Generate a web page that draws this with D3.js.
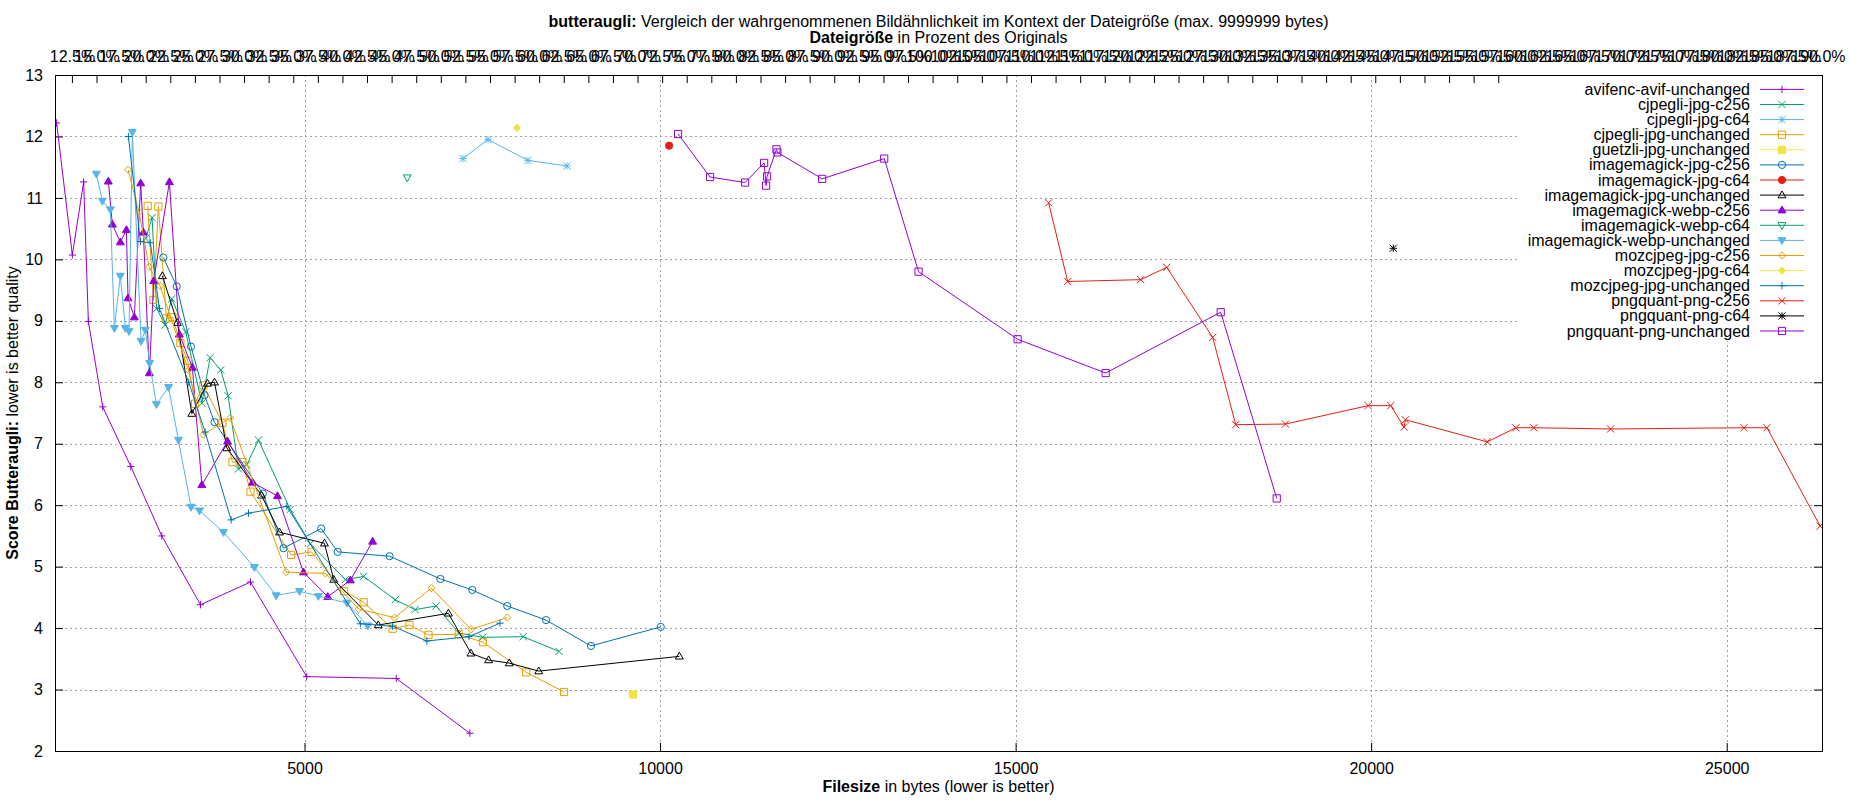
<!DOCTYPE html>
<html>
<head>
<meta charset="utf-8">
<script src="https://cdn.jsdelivr.net/npm/d3@7"></script>
<style>
  body { margin:0; background:#fff; }
  svg { font-family: "Liberation Sans", Arial, sans-serif; }
</style>
</head>
<body>
<svg></svg>
<script>
// series names (legend order = drawing order)
var seriesNames = [
  "avifenc-avif-unchanged", "cjpegli-jpg-c256", "cjpegli-jpg-c64", "cjpegli-jpg-unchanged",
  "guetzli-jpg-unchanged", "imagemagick-jpg-c256", "imagemagick-jpg-c64", "imagemagick-jpg-unchanged",
  "imagemagick-webp-c256", "imagemagick-webp-c64", "imagemagick-webp-unchanged", "mozcjpeg-jpg-c256",
  "mozcjpeg-jpg-c64", "mozcjpeg-jpg-unchanged", "pngquant-png-c256", "pngquant-png-c64",
  "pngquant-png-unchanged"
];

// [filesize in bytes, butteraugli score]
var avifencAvifUnchanged = [[1514,12.22],[1735,10.07],[1894,11.26],[1960,8.99],[2162,7.60],[2557,6.63],[2993,5.50],[3537,4.38],[4240,4.75],[5030,3.21],[6290,3.18],[7325,2.29]];
var cjpegliJpgC256 = [[2767,10.34],[2856,10.68],[2921,9.20],[3039,8.93],[3133,9.36],[3329,8.82],[3556,7.66],[3672,8.40],[3822,8.20],[3926,7.78],[4071,6.59],[4189,6.66],[4353,7.06],[4798,5.93],[5082,5.37],[5575,4.79],[5832,4.84],[6276,4.46],[6556,4.30],[6851,4.36],[7168,3.92],[7505,3.85],[8075,3.86],[8580,3.62]];
var cjpegliJpgC64 = [[7228,11.64],[7580,11.95],[8143,11.61],[8691,11.52]];
var cjpegliJpgUnchanged = [[2795,10.87],[2875,9.34],[2945,10.86],[3058,9.04],[3142,9.06],[3254,8.64],[3358,8.35],[3461,7.65],[3578,7.95],[3846,7.34],[3987,6.70],[4128,6.70],[4240,6.22],[4812,5.19],[5098,5.24],[5556,4.60],[5832,4.42],[6238,3.99],[6477,4.05],[6743,3.89],[7168,3.90],[7509,3.77],[8117,3.28],[8650,2.96]];
var guetzliJpgUnchanged = [[9618,2.92]];
var imagemagickJpgC256 = [[3015,10.03],[3203,9.56],[3404,8.58],[3593,7.79],[3734,7.35],[4414,6.19],[4705,5.30],[5234,5.62],[5467,5.24],[6196,5.17],[6911,4.80],[7360,4.62],[7851,4.36],[8397,4.13],[9028,3.71],[10010,4.02]];
var imagemagickJpgC64 = [[10127,11.85]];
var imagemagickJpgUnchanged = [[3001,9.73],[3212,8.97],[3415,7.49],[3635,7.98],[3734,8.00],[3907,6.93],[4395,6.16],[4648,5.56],[5280,5.38],[5411,4.79],[6037,4.05],[7023,4.24],[7341,3.59],[7589,3.48],[7879,3.43],[8294,3.30],[10271,3.54]];
var imagemagickWebpC256 = [[2241,11.27],[2298,10.57],[2410,10.28],[2495,10.48],[2518,9.37],[2607,9.06],[2696,11.24],[2734,10.44],[2818,8.15],[2879,9.65],[3100,11.26],[3240,8.78],[3423,8.24],[3556,6.33],[3917,7.04],[4268,6.37],[4620,6.15],[4985,4.91],[5327,4.51],[5645,4.78],[5958,5.41]];
var imagemagickWebpC64 = [[6445,11.33]];
var imagemagickWebpUnchanged = [[2073,11.39],[2157,10.95],[2270,10.81],[2326,8.88],[2410,9.73],[2481,8.88],[2532,8.83],[2579,12.07],[2701,8.67],[2762,8.85],[2823,8.31],[2917,7.64],[3088,7.92],[3227,7.06],[3405,5.97],[3523,5.91],[3860,5.56],[4296,4.99],[4601,4.53],[4930,4.60],[5195,4.52],[5598,4.41],[5888,4.04]];
var mozcjpegJpgC256 = [[2518,11.46],[2673,10.77],[2813,9.88],[2968,9.57],[3367,8.20],[3579,7.15],[3954,7.42],[4742,4.91],[5294,4.89],[5762,4.31],[6266,4.17],[6785,4.65],[7341,3.98],[7851,4.17]];
var mozcjpegJpgC64 = [[7988,12.14]];
var mozcjpegJpgUnchanged = [[2523,12.00],[2692,10.29],[2832,10.27],[2959,9.20],[3372,8.00],[3602,7.19],[3968,5.76],[4212,5.87],[4751,5.98],[5785,4.07],[6238,4.03],[6720,3.79],[7313,3.86],[7748,4.08]];
var pngquantPngC256 = [[15464,10.92],[15732,9.64],[16759,9.67],[17125,9.87],[17772,8.73],[18095,7.31],[18794,7.32],[19958,7.62],[20276,7.62],[20463,7.27],[20482,7.39],[21632,7.03],[22035,7.26],[22287,7.26],[23367,7.24],[25243,7.26],[25566,7.26],[26314,5.66]];
var pngquantPngC64 = [[20311,10.18]];
var pngquantPngUnchanged = [[10253,12.04],[10703,11.34],[11196,11.25],[11463,11.57],[11491,11.20],[11505,11.35],[11637,11.79],[11651,11.74],[12279,11.31],[13152,11.64],[13635,9.80],[15028,8.70],[16266,8.15],[17884,9.14],[18672,6.11]];

var seriesData = [
  avifencAvifUnchanged, cjpegliJpgC256, cjpegliJpgC64, cjpegliJpgUnchanged,
  guetzliJpgUnchanged, imagemagickJpgC256, imagemagickJpgC64, imagemagickJpgUnchanged,
  imagemagickWebpC256, imagemagickWebpC64, imagemagickWebpUnchanged, mozcjpegJpgC256,
  mozcjpegJpgC64, mozcjpegJpgUnchanged, pngquantPngC256, pngquantPngC64,
  pngquantPngUnchanged
];

// gnuplot default line colours and point types
var lineColors = ["#9400d3","#009e73","#56b4e9","#e69f00","#f0e442","#0072b2","#e51e10","#000000"];
var pointTypes = ["plus","cross","star","square","squareF","circle","circleF","tri","triF","itri","itriF","diamond","diamondF"];

var xTicks = [5000, 10000, 15000, 20000, 25000];
var yTicks = [2,3,4,5,6,7,8,9,10,11,12,13];
var xDomain = [1491, 26340];
var yDomain = [2, 13];
var refSize = 13833;   // 100% on the top axis
var x2Ticks = d3.range(12.5, 190.01, 2.5);

var screen = { width:1850, height:800 };
var margins = { top:75, bottom:49, left:55, right:28 };

var svg = d3.select("svg")
            .attr("width", screen.width)
            .attr("height", screen.height);

var plotLeft = margins.left, plotRight = screen.width - margins.right;
var plotTop = margins.top, plotBottom = screen.height - margins.bottom;

var xScale = d3.scaleLinear().domain(xDomain).range([plotLeft, plotRight]);
var yScale = d3.scaleLinear().domain(yDomain).range([plotBottom, plotTop]);
var x2Scale = d3.scaleLinear()
                .domain([xDomain[0] / refSize * 100, xDomain[1] / refSize * 100])
                .range([plotLeft, plotRight]);

// grid
var grid = svg.append("g").attr("stroke", "#a0a0a0").attr("stroke-dasharray", "2,3").attr("stroke-width", 1);
grid.selectAll("line.gx").data(xTicks).enter().append("line")
    .attr("x1", function(d){ return Math.round(xScale(d)) + 0.5; })
    .attr("x2", function(d){ return Math.round(xScale(d)) + 0.5; })
    .attr("y1", plotTop).attr("y2", plotBottom);
grid.selectAll("line.gy").data(yTicks.slice(1, -1)).enter().append("line")
    .attr("y1", function(d){ return Math.round(yScale(d)) + 0.5; })
    .attr("y2", function(d){ return Math.round(yScale(d)) + 0.5; })
    .attr("x1", plotLeft).attr("x2", plotRight);

// axes
var fontSize = 16;
var xAxis = d3.axisBottom(xScale).tickValues(xTicks).tickSize(-8).tickPadding(12).tickFormat(d3.format("d"));
var yAxis = d3.axisLeft(yScale).tickValues(yTicks).tickSize(-8).tickPadding(12).tickFormat(d3.format("d"));
var yAxisR = d3.axisRight(yScale).tickValues(yTicks).tickSize(-8).tickFormat("");
var x2Axis = d3.axisTop(x2Scale).tickValues(x2Ticks).tickSize(-8).tickPadding(13)
               .tickFormat(function(d){ return d.toFixed(1) + "%"; });

function styleAxis(g) {
  g.select(".domain").remove();
  g.selectAll("line").attr("stroke", "#000");
  g.selectAll("text").attr("font-size", fontSize).attr("fill", "#000").attr("font-family", "Liberation Sans, Arial, sans-serif");
}
svg.append("g").attr("transform", "translate(0," + plotBottom + ")").call(xAxis).call(styleAxis);
svg.append("g").attr("transform", "translate(" + plotLeft + ",0)").call(yAxis).call(styleAxis);
svg.append("g").attr("transform", "translate(" + plotRight + ",0)").call(yAxisR).call(styleAxis);
svg.append("g").attr("transform", "translate(0," + plotTop + ")").call(x2Axis).call(styleAxis);

svg.append("rect").attr("x", plotLeft + 0.5).attr("y", plotTop + 0.5)
   .attr("width", plotRight - plotLeft).attr("height", plotBottom - plotTop)
   .attr("fill", "none").attr("stroke", "#000").attr("stroke-width", 1);

// markers
var ms = 3.6;
function markerPath(t) {
  var s = ms;
  switch (t) {
    case "plus": return "M" + (-s) + ",0H" + s + "M0," + (-s) + "V" + s;
    case "cross": return "M" + (-s) + "," + (-s) + "L" + s + "," + s + "M" + (-s) + "," + s + "L" + s + "," + (-s);
    case "star": return "M" + (-s) + ",0H" + s + "M0," + (-s) + "V" + s +
                        "M" + (-s) + "," + (-s) + "L" + s + "," + s + "M" + (-s) + "," + s + "L" + s + "," + (-s);
    case "square": case "squareF": return "M" + (-s) + "," + (-s) + "H" + s + "V" + s + "H" + (-s) + "Z";
    case "circle": case "circleF": return "M" + s + ",0A" + s + "," + s + " 0 1,1 " + (-s) + ",0A" + s + "," + s + " 0 1,1 " + s + ",0Z";
    case "tri": case "triF": return "M0," + (-s * 1.15) + "L" + (s * 1.1) + "," + (s * 0.75) + "L" + (-s * 1.1) + "," + (s * 0.75) + "Z";
    case "itri": case "itriF": return "M0," + (s * 1.15) + "L" + (s * 1.1) + "," + (-s * 0.75) + "L" + (-s * 1.1) + "," + (-s * 0.75) + "Z";
    case "diamond": case "diamondF": return "M0," + (-s) + "L" + s + ",0L0," + s + "L" + (-s) + ",0Z";
  }
}
function drawMarker(g, t, color) {
  var filled = t.slice(-1) === "F";
  g.append("path").attr("d", markerPath(t))
   .attr("fill", filled ? color : "none")
   .attr("stroke", color).attr("stroke-width", 1);
}

svg.append("clipPath").attr("id", "plotclip").append("rect")
   .attr("x", plotLeft).attr("y", plotTop).attr("width", plotRight - plotLeft).attr("height", plotBottom - plotTop);

var plotLand = svg.append("g").attr("clip-path", "url(#plotclip)");
var line = d3.line().x(function(d){ return xScale(d[0]); }).y(function(d){ return yScale(d[1]); });

seriesData.forEach(function(data, i) {
  var color = lineColors[i % lineColors.length];
  var pt = pointTypes[i % pointTypes.length];
  var g = plotLand.append("g");
  g.append("path").datum(data).attr("d", line)
   .attr("fill", "none").attr("stroke", color).attr("stroke-width", 1);
  g.selectAll("g.pt").data(data).enter().append("g")
   .attr("transform", function(d){ return "translate(" + xScale(d[0]) + "," + yScale(d[1]) + ")"; })
   .each(function(){ drawMarker(d3.select(this), pt, color); });
});

// legend (opaque key)
var legendBox = { x:1517, y:76, w:plotRight - 1517, h:265 };
svg.append("rect").attr("x", legendBox.x).attr("y", legendBox.y)
   .attr("width", legendBox.w).attr("height", legendBox.h).attr("fill", "#fff");

var legend = svg.append("g").attr("transform", "translate(0,89.4)");
var legendLines = legend.selectAll("g").data(seriesNames).enter().append("g")
    .attr("transform", function(d, i){ return "translate(0," + (i * 15.1) + ")"; });
legendLines.append("text")
    .attr("x", 1750).attr("y", 5.5).attr("text-anchor", "end").attr("font-size", fontSize)
    .text(function(d){ return d; });
legendLines.append("line")
    .attr("x1", 1760).attr("x2", 1804).attr("y1", 0).attr("y2", 0)
    .attr("stroke", function(d, i){ return lineColors[i % lineColors.length]; });
legendLines.append("g").attr("transform", "translate(1782,0)")
    .each(function(d, i){ drawMarker(d3.select(this), pointTypes[i % pointTypes.length], lineColors[i % lineColors.length]); });

// redraw right border over legend box
svg.append("line").attr("x1", plotRight + 0.5).attr("x2", plotRight + 0.5).attr("y1", plotTop).attr("y2", plotBottom).attr("stroke", "#000");

// titles
var cx = (plotLeft + plotRight) / 2;
var t1 = svg.append("text").attr("x", cx).attr("y", 27).attr("text-anchor", "middle").attr("font-size", fontSize);
t1.append("tspan").attr("font-weight", "bold").text("butteraugli:");
t1.append("tspan").text(" Vergleich der wahrgenommenen Bildähnlichkeit im Kontext der Dateigröße (max. 9999999 bytes)");
var t2 = svg.append("text").attr("x", cx).attr("y", 43).attr("text-anchor", "middle").attr("font-size", fontSize);
t2.append("tspan").attr("font-weight", "bold").text("Dateigröße");
t2.append("tspan").text(" in Prozent des Originals");

var xl = svg.append("text").attr("x", cx).attr("y", 792).attr("text-anchor", "middle").attr("font-size", fontSize);
xl.append("tspan").attr("font-weight", "bold").text("Filesize");
xl.append("tspan").text(" in bytes (lower is better)");

var yl = svg.append("text").attr("transform", "translate(18," + ((plotTop + plotBottom) / 2) + ") rotate(-90)")
            .attr("text-anchor", "middle").attr("font-size", fontSize);
yl.append("tspan").attr("font-weight", "bold").text("Score Butteraugli:");
yl.append("tspan").text(" lower is better quality");
</script>
</body>
</html>
